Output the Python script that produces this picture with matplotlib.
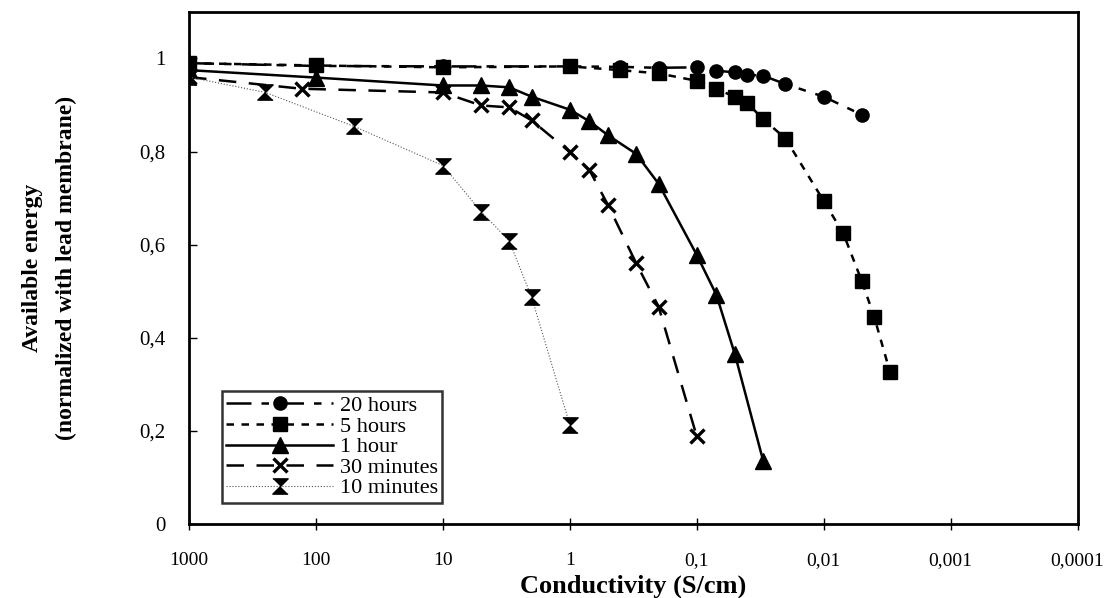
import numpy as np
import matplotlib
matplotlib.use('Agg')
import matplotlib.pyplot as plt

plt.rcParams['font.family'] = ['Liberation Serif', 'DejaVu Serif']

# conductivity (S/cm) and normalized available energy
x_20h = [1000, 100, 10, 1, 0.4, 0.2, 0.1, 0.07, 0.05, 0.04, 0.03, 0.02, 0.01, 0.005]
y_20h = [0.99, 0.984, 0.983, 0.983, 0.982, 0.980, 0.981, 0.974, 0.970, 0.965, 0.963, 0.945, 0.918, 0.879]

x_5h = [1000, 100, 10, 1, 0.4, 0.2, 0.1, 0.07, 0.05, 0.04, 0.03, 0.02, 0.01, 0.007, 0.005, 0.004, 0.003]
y_5h = [0.99, 0.985, 0.981, 0.983, 0.975, 0.968, 0.952, 0.934, 0.918, 0.904, 0.870, 0.828, 0.694, 0.624, 0.521, 0.445, 0.326]

x_1h = [1000, 100, 10, 5, 3, 2, 1, 0.7, 0.5, 0.3, 0.2, 0.1, 0.07, 0.05, 0.03]
y_1h = [0.975, 0.959, 0.942, 0.942, 0.938, 0.918, 0.890, 0.865, 0.835, 0.795, 0.731, 0.578, 0.492, 0.364, 0.136]

x_30m = [1000, 130, 10, 5, 3, 2, 1, 0.7, 0.5, 0.3, 0.2, 0.1]
y_30m = [0.96, 0.935, 0.927, 0.899, 0.895, 0.867, 0.799, 0.760, 0.685, 0.560, 0.467, 0.188]

x_10m = [1000, 250, 50, 10, 5, 3, 2, 1]
y_10m = [0.96, 0.927, 0.854, 0.770, 0.671, 0.608, 0.487, 0.213]

labels = ['20 hours', '5 hours', '1 hour', '30 minutes', '10 minutes']
xticks = [1000, 100, 10, 1, 0.1, 0.01, 0.001, 0.0001]
xticklabels = ['1000', '100', '10', '1', '0,1', '0,01', '0,001', '0,0001']
yticks = [0, 0.2, 0.4, 0.6, 0.8, 1]
yticklabels = ['0', '0,2', '0,4', '0,6', '0,8', '1']

# hourglass marker for the 10 minutes series
hourglass = [(-1, 1), (1, 1), (-1, -1), (1, -1)]

fig = plt.figure(figsize=(11.12, 5.98), dpi=100)
ax = fig.add_axes([0.170, 0.124, 0.799, 0.856])

ax.plot(x_20h, y_20h, color='black', lw=1.8, dashes=(10, 4, 3, 4),
        marker='o', ms=9.5, label=labels[0])
ax.plot(x_5h, y_5h, color='black', lw=1.8, dashes=(3, 3),
        marker='s', ms=10, label=labels[1])
ax.plot(x_1h, y_1h, color='black', lw=1.8, ls='-',
        marker='^', ms=11, label=labels[2])
ax.plot(x_30m, y_30m, color='black', lw=1.8, dashes=(7, 5),
        marker='x', ms=10, mew=2.4, label=labels[3])
ax.plot(x_10m, y_10m, color='#555555', lw=0.8, ls=':',
        marker=hourglass, ms=11, mfc='black', mec='black', label=labels[4])

ax.set_xscale('log')
ax.set_xlim(1000, 0.0001)
ax.set_ylim(0, 1.1)
ax.set_xticks(xticks)
ax.set_xticklabels(xticklabels)
ax.xaxis.set_minor_locator(matplotlib.ticker.NullLocator())
ax.set_yticks(yticks)
ax.set_yticklabels(yticklabels)

ax.tick_params(axis='x', direction='inout', length=8, width=1, labelsize=14, pad=16)
ax.tick_params(axis='y', direction='in', length=6, width=1, labelsize=15, pad=17)
for s in ax.spines.values():
    s.set_linewidth(2)

ax.set_xlabel('Conductivity (S/cm)', fontsize=19, fontweight='bold', labelpad=4)
ax.set_ylabel('Available energy\n(normalized with lead membrane)', fontsize=17,
              fontweight='bold', labelpad=45, linespacing=1.75)

leg = ax.legend(loc='lower left', bbox_to_anchor=(0.037, 0.041), fontsize=16,
                frameon=True, fancybox=False, edgecolor='black', handlelength=4.8,
                labelspacing=0.0, borderpad=0.2, handletextpad=0.3, borderaxespad=0)
leg.get_frame().set_linewidth(1.8)

fig.savefig('out.png', dpi=100)
